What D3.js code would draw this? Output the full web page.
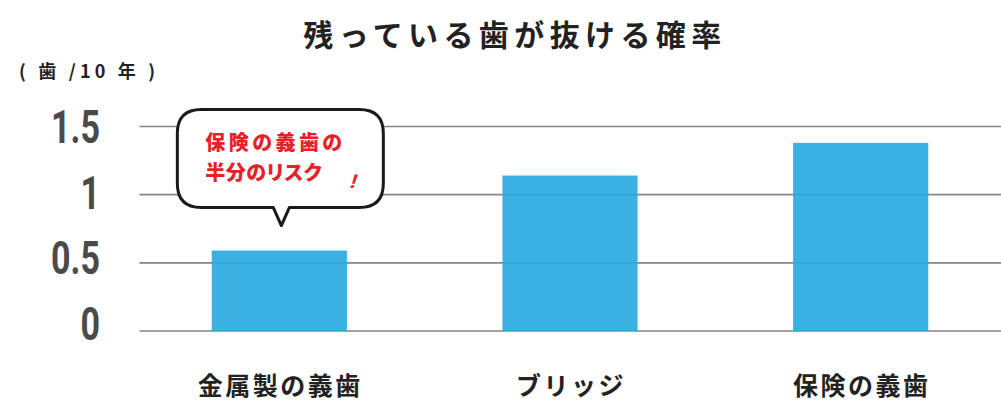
<!DOCTYPE html>
<html>
<head>
<meta charset="utf-8">
<script src="https://cdn.jsdelivr.net/npm/d3@7"></script>
<style>
  body { margin: 0; background: #fff; }
  text { font-family: "Noto Sans CJK JP", "Noto Sans", sans-serif; }
</style>
</head>
<body>
<div id="chart"></div>
<script>
// data
var categories = ["金属製の義歯", "ブリッジ", "保険の義歯"];
var values = [0.59, 1.14, 1.38];
var yTicks = [0, 0.5, 1, 1.5];
var yTickLabels = ["0", "0.5", "1", "1.5"];
var chartTitle = "残っている歯が抜ける確率";
var unitLabel = "( 歯 /10 年 )";
var calloutLines = ["保険の義歯の", "半分のリスク"];

var width = 1001, height = 420;

var svg = d3.select("#chart")
  .append("svg")
  .attr("width", width)
  .attr("height", height);

var x = d3.scaleBand()
  .domain(categories)
  .range([134, 1006])
  .paddingInner(0.535)
  .paddingOuter(0.2675);

var y = d3.scaleLinear()
  .domain([0, 1.5])
  .range([331, 126.5]);

// tick labels sit slightly higher than their lines
var yLabel = d3.scaleLinear()
  .domain([0, 1.5])
  .range([y(0) - 8, y(1.5)]);

// Title
svg.append("text")
  .attr("x", 515)
  .attr("y", 46)
  .attr("text-anchor", "middle")
  .attr("font-size", 30)
  .attr("font-weight", "bold")
  .attr("letter-spacing", 5.4)
  .style("fill", "#222")
  .text(chartTitle);

// Unit label
svg.append("text")
  .attr("x", 19)
  .attr("y", 78)
  .attr("font-size", 18)
  .attr("font-weight", "bold")
  .attr("letter-spacing", 4.2)
  .style("fill", "#222")
  .text(unitLabel);

// Grid lines
svg.selectAll("line.grid")
  .data(yTicks)
  .enter()
  .append("line")
  .attr("class", "grid")
  .attr("x1", 139.5)
  .attr("x2", width)
  .attr("y1", function(d) { return y(d); })
  .attr("y2", function(d) { return y(d); })
  .style("stroke", "#858585")
  .style("stroke-width", "1.6px");

// Y tick labels (condensed by a horizontal squeeze)
svg.selectAll("text.tick")
  .data(yTicks)
  .enter()
  .append("text")
  .attr("class", "tick")
  .attr("transform", function(d) { return "translate(100," + (yLabel(d) + 16.5) + ") scale(0.74,1)"; })
  .attr("text-anchor", "end")
  .attr("font-size", 46)
  .attr("font-weight", "bold")
  .style("font-family", "Roboto, 'Liberation Sans', sans-serif")
  .style("fill", "#4a4a4a")
  .text(function(d, i) { return yTickLabels[i]; });

// Bars
svg.selectAll("rect.bar")
  .data(values)
  .enter()
  .append("rect")
  .attr("class", "bar")
  .attr("x", function(d, i) { return x(categories[i]); })
  .attr("width", x.bandwidth())
  .attr("y", function(d) { return y(d); })
  .attr("height", function(d) { return y(0) - y(d); })
  .style("fill", "#29a9e1")
  .style("fill-opacity", 0.92);

// Category labels
svg.selectAll("text.cat")
  .data(categories)
  .enter()
  .append("text")
  .attr("class", "cat")
  .attr("x", function(d) { return x(d) + x.bandwidth() / 2 + 1; })
  .attr("y", 395)
  .attr("text-anchor", "middle")
  .attr("font-size", 25)
  .attr("font-weight", "bold")
  .attr("letter-spacing", 2.5)
  .style("fill", "#222")
  .text(function(d) { return d; });

// Callout bubble over the first bar
var cx = x(categories[0]) + x.bandwidth() / 2 + 2;
var tipY = y(values[0]) - 25;
var bl = cx - 104, br = cx + 102, bt = tipY - 116, bb = tipY - 18, r = 24;

var bubble = d3.path();
bubble.moveTo(bl + r, bt);
bubble.lineTo(br - r, bt);
bubble.quadraticCurveTo(br, bt, br, bt + r);
bubble.lineTo(br, bb - r);
bubble.quadraticCurveTo(br, bb, br - r, bb);
bubble.lineTo(cx + 8, bb);
bubble.lineTo(cx, tipY);
bubble.lineTo(cx - 8, bb);
bubble.lineTo(bl + r, bb);
bubble.quadraticCurveTo(bl, bb, bl, bb - r);
bubble.lineTo(bl, bt + r);
bubble.quadraticCurveTo(bl, bt, bl + r, bt);
bubble.closePath();

svg.append("path")
  .attr("d", bubble.toString())
  .style("fill", "#fff")
  .style("stroke", "#1a1a1a")
  .style("stroke-width", "3px")
  .style("stroke-linejoin", "round");

svg.selectAll("text.callout")
  .data(calloutLines)
  .enter()
  .append("text")
  .attr("class", "callout")
  .attr("x", bl + 28)
  .attr("y", function(d, i) { return bt + 40 + i * 30; })
  .attr("font-size", 20)
  .attr("font-weight", "900")
  .attr("letter-spacing", function(d, i) { return i === 0 ? 3.4 : 0.5; })
  .style("font-feature-settings", function(d, i) { return i === 0 ? "normal" : "'palt'"; })
  .style("fill", "#e8202a")
  .text(function(d) { return d; });

svg.append("text")
  .attr("transform", "translate(" + (bl + 172) + "," + (bt + 78) + ") skewX(-18)")
  .attr("font-size", 19)
  .attr("font-weight", "900")
  .style("font-family", "Roboto, 'Liberation Sans', sans-serif")
  .style("fill", "#e8202a")
  .text("!");
</script>
</body>
</html>
